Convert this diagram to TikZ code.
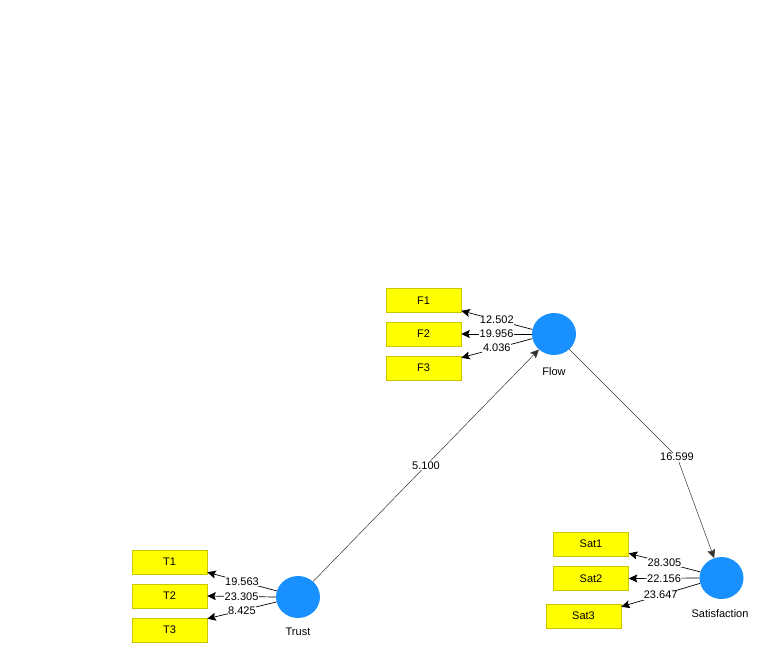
\documentclass[tikz,border=0pt]{standalone}
\usepackage{fontspec}
\setmainfont{Liberation Sans}
\usetikzlibrary{arrows.meta,shapes.geometric}
\definecolor{lvblue}{RGB}{24,144,255}
\definecolor{boxyellow}{RGB}{255,255,0}
\definecolor{boxedge}{RGB}{200,200,0}
\tikzset{
  every node/.style={font=\fontsize{11}{13}\selectfont},
  latent/.style={ellipse,fill=lvblue,draw=none,minimum width=44pt,minimum height=42pt,inner sep=0pt},
  indbox/.style={rectangle,fill=boxyellow,draw=boxedge,line width=0.6pt,minimum width=75pt,minimum height=24pt,inner sep=0pt},
  indarrow/.style={draw=black,line width=0.7pt,-{Stealth[length=8.5pt,width=8pt,inset=1.5pt]}},
  patharrow/.style={draw=black!80,line width=0.5pt,-{Stealth[length=8.5pt,width=8pt,inset=1.5pt]}},
  plainpath/.style={draw=black!80,line width=0.5pt},
  val/.style={fill=white,inner sep=0.6pt},
  lvname/.style={inner sep=0pt}
}
\begin{document}
\begin{tikzpicture}[x=1pt,y=-1pt]
\useasboundingbox (0,0) rectangle (776,648);
% latent variables
\node[latent] (flow) at (554,334) {};
\node[lvname] (flowlbl) at (554,372) {Flow};
\node[latent] (trust) at (298,597) {};
\node[lvname] (trustlbl) at (298,632) {Trust};
\node[latent] (sat) at (721.5,578) {};
\node[lvname] (satlbl) at (720,614) {Satisfaction};
% indicators
\node[indbox] (F1) at (423.5,300.5) {F1};
\node[indbox] (F2) at (423.5,334) {F2};
\node[indbox] (F3) at (423.5,368) {F3};
\node[indbox] (T1) at (169.5,562) {T1};
\node[indbox] (T2) at (169.5,596) {T2};
\node[indbox] (T3) at (169.5,630) {T3};
\node[indbox] (S1) at (591,544) {Sat1};
\node[indbox] (S2) at (591,578.5) {Sat2};
\node[indbox] (S3) at (583.5,616) {Sat3};
% outer loadings
\draw[indarrow] (flow.168) -- node[val]{12.502} ([yshift=2pt]F1.south east);
\draw[indarrow] (flow.180) -- node[val]{19.956} (F2.east);
\draw[indarrow] (flow.192) -- node[val]{4.036} ([yshift=-2pt]F3.north east);
\draw[indarrow] (trust.164) -- node[val]{19.563} ([yshift=2pt]T1.south east);
\draw[indarrow] (trust.180) -- node[val]{23.305} (T2.east);
\draw[indarrow] (trust.193) -- node[val]{8.425} ([yshift=-1pt]T3.north east);
\draw[indarrow] (sat.164) -- node[val]{28.305} ([yshift=3pt]S1.south east);
\draw[indarrow] (sat.180) -- node[val]{22.156} (S2.east);
\draw[indarrow] (sat.194) -- node[val]{23.647} ([yshift=-3pt]S3.north east);
% structural paths
\draw[patharrow] (trust) -- node[val]{5.100} (flow);
\coordinate (bend) at (677,457);
\draw[plainpath] (flow) -- (bend);
\draw[patharrow] (bend) -- (sat);
\node[val] (b16) at (bend) {16.599};
\end{tikzpicture}
\end{document}
